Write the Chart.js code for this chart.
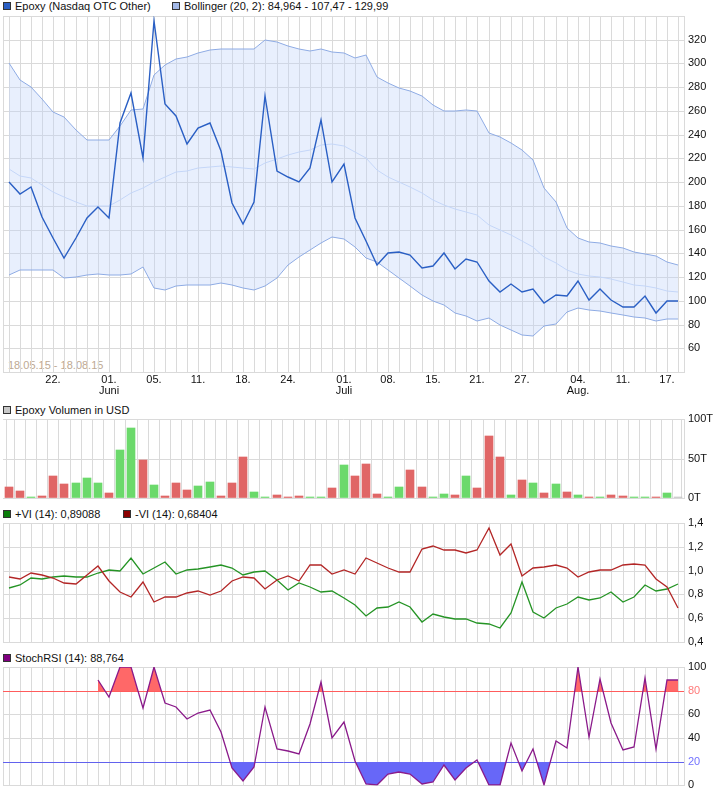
<!DOCTYPE html>
<html><head><meta charset="utf-8">
<script src="https://cdn.jsdelivr.net/npm/chart.js@4.4.1/dist/chart.umd.min.js"></script>
<style>
html,body{margin:0;padding:0;background:#fff;}
body{width:726px;height:796px;position:relative;overflow:hidden;font-family:"Liberation Sans",Arial,sans-serif;}
canvas.cv{position:absolute;left:0;top:0;}
.lg{position:absolute;font-size:11px;line-height:12px;color:#111;white-space:nowrap;}
.sq{display:inline-block;width:6px;height:6px;border:1px solid #333;margin-right:4px;position:relative;top:0px;}
.range{position:absolute;font-size:11px;line-height:12px;color:#bda992;white-space:nowrap;}
</style></head><body>

<div class="lg" style="left:3px;top:0px"><span class="sq" style="background:#2a5fc4"></span>Epoxy (Nasdaq OTC Other)</div>
<div class="lg" style="left:172px;top:0px"><span class="sq" style="background:#a3b9e8"></span>Bollinger (20, 2): 84,964 - 107,47 - 129,99</div>
<div class="range" style="left:8px;top:359px">18.05.15 - 18.08.15</div>
<div class="lg" style="left:3px;top:404px"><span class="sq" style="background:#c8c8c8"></span>Epoxy Volumen in USD</div>
<div class="lg" style="left:3px;top:508px"><span class="sq" style="background:#0a7d0a"></span>+VI (14): 0,89088</div>
<div class="lg" style="left:123px;top:508px"><span class="sq" style="background:#8b0000"></span>-VI (14): 0,68404</div>
<div class="lg" style="left:3px;top:652px"><span class="sq" style="background:#800080"></span>StochRSI (14): 88,764</div>

<canvas class="cv" id="cPrice" width="726" height="796"></canvas>
<canvas class="cv" id="cVol" width="726" height="796"></canvas>
<canvas class="cv" id="cVI" width="726" height="796"></canvas>
<canvas class="cv" id="cStoch" width="726" height="796"></canvas>

<script>
// ---------- DATA ----------
const xTickIdx = [4, 9, 13, 17, 21, 25, 30, 34, 38, 42, 46, 51, 55, 59];
const xTickLabels = [['22.'], ['01.', 'Juni'], ['05.'], ['11.'], ['18.'], ['24.'], ['01.', 'Juli'], ['08.'], ['15.'], ['21.'], ['27.'], ['04.', 'Aug.'], ['11.'], ['17.']];

const price = [200, 190, 196, 171, 153, 136, 153, 170, 179, 170,
  250, 275, 220, 336, 266, 256, 232, 246, 250, 226,
  182, 165, 183, 273, 209, 204, 200, 212, 252, 200,
  215, 170, 150, 130, 140, 141, 139, 128, 129, 140,
  127, 135, 133, 117, 107, 114, 107, 110, 98.5, 105,
  104, 117, 101, 110, 101, 94.5, 95, 104, 90, 100, 100];

const bbUpper = [300.6, 285.9, 280.3, 270.4, 258.8, 254.9, 244.2, 235.7, 235.7, 235.7,
  247.6, 261.1, 261.9, 290.7, 298.3, 303.9, 305.6, 309, 311, 312.4,
  312.4, 312.6, 312.6, 319.4, 318.3, 314.6, 311.8, 310.4, 311.8, 309.9,
  308.4, 304.8, 307, 288.7, 283.6, 279.1, 277.1, 272.3, 265.3, 260.2,
  260.2, 260.5, 259.6, 241.4, 237.7, 232.9, 227.3, 218.8, 194.9, 183.6,
  161, 152.6, 149.8, 148.4, 146.4, 144.2, 141.3, 139.4, 137.7, 132.9, 129.99];

const bbMiddle = [210.9, 205.5, 203.3, 197.7, 192, 187.8, 183.6, 180, 180, 180,
  185, 191.2, 194.9, 200.5, 204.7, 208.4, 209.5, 211.8, 212.6, 213.7,
  212.6, 211.8, 210.9, 216.5, 219.4, 223, 225.3, 227.3, 230.9, 232.1,
  230.6, 225.8, 220.2, 210.4, 204.7, 200.5, 195.7, 190.7, 185, 180.8,
  177.1, 175.1, 172.3, 163.9, 159.6, 155.4, 150.6, 145.5, 137, 131.5,
  125.8, 123, 120.8, 119.7, 118, 116, 113.7, 112.3, 110.4, 108.4, 107.47];

const bbLower = [121.6, 125.8, 125.8, 125.8, 125.8, 119.3, 120.2, 121.9, 122.2, 121.9,
  121.4, 122.2, 128.1, 110.6, 109.5, 112.3, 112.9, 113.7, 113.7, 115.1,
  113.4, 110.6, 109.5, 112.3, 119.6, 130, 137, 142.7, 148.9, 153.5,
  152, 145.5, 135.7, 132.9, 125.8, 119.3, 112.3, 104.7, 99.9, 96.2,
  90, 86.9, 82.7, 85.5, 79.3, 75.7, 71.5, 70, 78.8, 80.7,
  90.6, 94.3, 92.6, 91.4, 89.7, 87.8, 86.4, 85.8, 83, 84.4, 84.964];

// volume in thousands of USD (T)
const volume = [13.3, 8.3, 1, 3.1, 28.3, 18.2, 19.5, 25.7, 19.5, 5.7,
  60.9, 88.5, 48.3, 17, 2.1, 19.6, 9.6, 15.8, 20.8, 2.1,
  19.6, 52.1, 7, 1, 3.3, 1, 2.1, 1, 1, 12.1,
  42.1, 28.3, 43.3, 4.6, 1, 13.3, 35.8, 13.3, 1, 4.6,
  3.3, 28.3, 12.1, 78.3, 52.1, 3.3, 23.3, 19.6, 5.8, 17.1,
  7.1, 3.3, 1, 1, 4.3, 3, 1, 1, 1, 6.8, 1.8];

const viPlus = [0.853, 0.882, 0.938, 0.930, 0.944, 0.952, 0.947, 0.947, 0.981, 1.001,
  0.998, 1.108, 0.975, 1.023, 1.074, 0.975, 1.001, 1.012, 1.029, 1.046,
  1.023, 0.964, 0.986, 0.995, 0.924, 0.836, 0.893, 0.859, 0.819, 0.828,
  0.768, 0.712, 0.618, 0.683, 0.697, 0.740, 0.692, 0.570, 0.635, 0.610,
  0.590, 0.590, 0.561, 0.553, 0.519, 0.641, 0.904, 0.649, 0.598, 0.689,
  0.720, 0.774, 0.754, 0.769, 0.820, 0.735, 0.777, 0.882, 0.825, 0.845, 0.891];

const viMinus = [0.944, 0.933, 0.981, 0.967, 0.938, 0.896, 0.887, 0.967, 1.037, 0.910,
  0.819, 0.780, 0.904, 0.734, 0.777, 0.780, 0.811, 0.831, 0.797, 0.825,
  0.910, 0.944, 0.938, 0.845, 0.924, 0.952, 0.910, 1.046, 1.046, 0.972,
  1.009, 0.972, 1.108, 1.066, 1.023, 0.989, 0.989, 1.179, 1.207, 1.173,
  1.171, 1.151, 1.171, 1.355, 1.131, 1.222, 0.958, 1.023, 1.029, 1.046,
  1.023, 0.944, 0.989, 1.008, 1.008, 1.051, 1.056, 1.051, 0.932, 0.859, 0.684];

const stochRsi = [null, null, null, null, null, null, null, null, 89.4, 74.8,
  100, 100, 65.5, 100, 69.7, 66.1, 56.3, 61.3, 63.3, 45.4,
  14.6, 3.9, 15.7, 66.4, 31.1, 29.1, 26.3, 51.5, 87.1, 40.3,
  53.5, 20.7, 1.1, 0, 9.5, 11.5, 9.5, 1.1, 2.5, 17.4,
  4.5, 15.1, 21.3, 0, 0, 36.1, 12.3, 31.1, 0, 37.5,
  31.4, 100, 40.9, 89.9, 52.5, 29.6, 32.6, 90.8, 31, 88.764, 88.764];

const stochUpper = 80;
const stochLower = 20;

// ---------- STYLE ----------
const GRID = '#dadada';
const TXT = '#111';
const UP = '#6bd96b', DOWN = '#e06666', FLAT = '#c4c4c4';
Chart.defaults.font.family = '"Liberation Sans", Arial, sans-serif';
Chart.defaults.font.size = 11;
Chart.defaults.color = TXT;
Chart.defaults.animation = false;
Chart.defaults.responsive = false;
Chart.defaults.plugins.legend.display = false;
Chart.defaults.plugins.tooltip.enabled = false;

const pts = arr => arr.map((v, i) => ({x: i, y: v}));
const N = price.length;

function xScale(showLabels) {
  return {
    type: 'linear', min: -0.5, max: N - 0.5, offset: false, alignToPixels: true,
    afterBuildTicks: s => {
      const t = [{value: -0.5}];
      for (let i = 0; i < N; i++) t.push({value: i});
      t.push({value: N - 0.5});
      s.ticks = t;
    },
    grid: {color: GRID, drawTicks: false, lineWidth: 1},
    border: {color: GRID},
    ticks: {
      display: showLabels, autoSkip: false, maxRotation: 0, minRotation: 0, padding: 2,
      font: {size: 11, lineHeight: 1.05}, color: TXT,
      callback: v => { const k = xTickIdx.indexOf(v); return k >= 0 ? xTickLabels[k] : ''; }
    },
    afterFit: s => { s.height = showLabels ? 30 : 0; }
  };
}
function yScale(min, max, step, fmt, colorFn, gridFn) {
  return {
    position: 'right', min, max, alignToPixels: true,
    grid: {color: gridFn || GRID, drawTicks: false, lineWidth: 1},
    border: {color: GRID},
    ticks: {stepSize: step, padding: 4, color: colorFn || TXT, font: {size: 11}, callback: fmt},
    afterFit: s => { s.width = 42; }
  };
}
function pad(top, bottom, xAxisH) {
  return {top: top, left: 3, right: 0, bottom: 796 - bottom - xAxisH};
}

// ---------- PRICE ----------
new Chart(document.getElementById('cPrice'), {
  type: 'line',
  data: {datasets: [
    {data: pts(bbLower), borderColor: '#8eabe4', borderWidth: 1, pointRadius: 0, fill: false, order: 3},
    {data: pts(bbUpper), borderColor: '#8eabe4', borderWidth: 1, pointRadius: 0, fill: 0,
      backgroundColor: 'rgba(192,212,250,0.36)', order: 3},
    {data: pts(bbMiddle), borderColor: '#c4d6f8', borderWidth: 1, pointRadius: 0, fill: false, order: 2},
    {data: pts(price), borderColor: '#2a5fc4', borderWidth: 1.4, pointRadius: 0, fill: false, order: 0}
  ]},
  options: {
    layout: {padding: pad(16, 372, 30)},
    scales: {
      x: xScale(true),
      y: yScale(40, 340, 20, v => (v === 40 || v === 340) ? '' : v)
    }
  }
});

// ---------- VOLUME ----------
const volColors = price.map((p, i) => i === 0 ? DOWN : (p > price[i - 1] ? UP : (p < price[i - 1] ? DOWN : FLAT)));
new Chart(document.getElementById('cVol'), {
  type: 'bar',
  data: {datasets: [
    {data: pts(volume), backgroundColor: volColors, barThickness: 8, borderWidth: 0}
  ]},
  options: {
    layout: {padding: pad(419, 498, 0)},
    scales: {
      x: xScale(false),
      y: yScale(0, 100, 50, v => v + 'T')
    }
  }
});

// ---------- VORTEX ----------
new Chart(document.getElementById('cVI'), {
  type: 'line',
  data: {datasets: [
    {data: pts(viMinus), borderColor: '#b32626', borderWidth: 1.3, pointRadius: 0, fill: false},
    {data: pts(viPlus), borderColor: '#259425', borderWidth: 1.3, pointRadius: 0, fill: false}
  ]},
  options: {
    layout: {padding: pad(523, 642, 0)},
    scales: {
      x: xScale(false),
      y: yScale(0.4, 1.4, 0.2, v => v.toFixed(1).replace('.', ','))
    }
  }
});

// ---------- STOCH RSI ----------
const levelLines = {
  id: 'levelLines',
  beforeDatasetsDraw(chart, args, opts) {
    const {ctx, chartArea: a} = chart;
    const y = chart.scales.y;
    (opts.lines || []).forEach(l => {
      const py = Math.round(y.getPixelForValue(l.value) - 0.5) + 0.5;
      ctx.save();
      ctx.strokeStyle = l.color; ctx.lineWidth = 1;
      ctx.beginPath(); ctx.moveTo(a.left, py); ctx.lineTo(a.right, py); ctx.stroke();
      ctx.restore();
    });
  }
};
new Chart(document.getElementById('cStoch'), {
  type: 'line',
  data: {datasets: [
    {data: pts(stochRsi), borderWidth: 0, borderColor: 'rgba(0,0,0,0)', pointRadius: 0,
      fill: {target: {value: stochUpper}, above: '#ff6868', below: 'rgba(0,0,0,0)'}, order: 2},
    {data: pts(stochRsi), borderWidth: 0, borderColor: 'rgba(0,0,0,0)', pointRadius: 0,
      fill: {target: {value: stochLower}, above: 'rgba(0,0,0,0)', below: '#6767f8'}, order: 2},
    {data: pts(stochRsi), borderColor: '#8a1a8a', borderWidth: 1.3, pointRadius: 0, fill: false, order: 0}
  ]},
  options: {
    layout: {padding: pad(667, 786, 0)},
    plugins: {levelLines: {lines: [{value: stochUpper, color: '#ff5c5c'}, {value: stochLower, color: '#6262ee'}]}},
    scales: {
      x: xScale(false),
      y: yScale(0, 100, 20, v => v,
        ctx => ctx.tick.value === stochUpper ? '#ff7a7a' : (ctx.tick.value === stochLower ? '#7272ff' : TXT),
        ctx => (ctx.tick && (ctx.tick.value === stochUpper || ctx.tick.value === stochLower)) ? 'rgba(0,0,0,0)' : GRID)
    }
  },
  plugins: [levelLines]
});
</script>
</body></html>
